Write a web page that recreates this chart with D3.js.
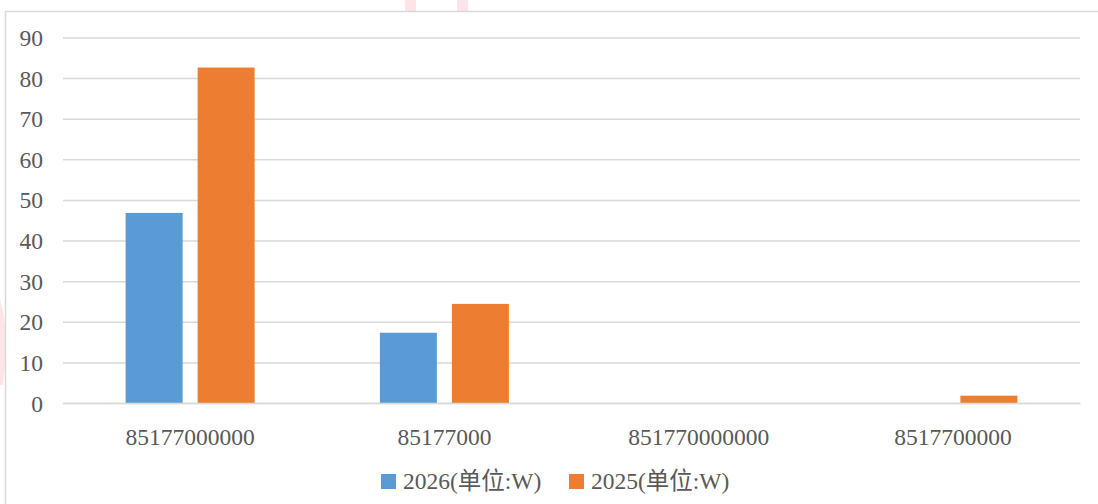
<!DOCTYPE html>
<html><head><meta charset="utf-8">
<script src="https://cdn.jsdelivr.net/npm/d3@7"></script>
<style>
html,body{margin:0;padding:0;background:#fff;}
svg text{font-family:"Liberation Serif","Times New Roman","Noto Sans CJK SC",serif;fill:#595959;}
</style></head>
<body>
<svg id="chart" width="1098" height="504"></svg>
<script>
const categories = ["85177000000", "85177000", "851770000000", "8517700000"];
const seriesNames = ["2026(单位:W)", "2025(单位:W)"];
const values2026 = [46.8, 17.3, 0, 0];
const values2025 = [82.6, 24.4, 0, 1.8];
const yTicks = [0, 10, 20, 30, 40, 50, 60, 70, 80, 90];
const colors = ["#5b9bd5", "#ed7d31"];

const svg = d3.select("#chart");
const m = {left: 63, right: 1080, top: 37.5, bottom: 403};
const FS = 23.5;

// watermark hints
const wm = svg.append("g").attr("fill", "#fde4e6");
wm.append("rect").attr("x", 405).attr("y", 0).attr("width", 11).attr("height", 11);
wm.append("rect").attr("x", 457).attr("y", 0).attr("width", 11).attr("height", 11);
wm.append("path").attr("d", "M0,300 Q10,330 3,385 L0,385 Z");

// border
svg.append("rect").attr("x", 5.5).attr("y", 11.5).attr("width", 1110).attr("height", 520)
  .attr("fill", "none").attr("stroke", "#d9d9d9").attr("stroke-width", 1.5);

const y = d3.scaleLinear().domain([0, 90]).range([m.bottom, m.top]);
const x0 = d3.scaleBand().domain(categories).range([m.left, m.right]);
const innerPad = 15, barW = 57;

// gridlines
const yAxis = d3.axisLeft(y).tickValues(yTicks).tickSize(-(m.right - m.left)).tickPadding(20).tickFormat(d3.format("d"));
const gy = svg.append("g").attr("transform", `translate(${m.left},0)`).call(yAxis);
gy.select(".domain").remove();
gy.selectAll(".tick line").attr("stroke", "#d9d9d9").attr("stroke-width", 1.5);
gy.selectAll(".tick text").attr("font-size", FS).attr("fill", "#595959").attr("dy", "0.34em");

// bars
const series = [values2026, values2025];
series.forEach((vals, si) => {
  svg.append("g").selectAll("rect").data(vals).join("rect")
    .attr("x", (d, i) => x0(categories[i]) + x0.bandwidth() / 2 + (si === 0 ? -(innerPad / 2 + barW) : innerPad / 2))
    .attr("width", barW)
    .attr("y", d => y(d))
    .attr("height", d => y(0) - y(d))
    .attr("fill", colors[si]);
});

// x axis
const xAxis = d3.axisBottom(x0).tickSize(0).tickPadding(25);
const gx = svg.append("g").attr("transform", `translate(0,${m.bottom})`).call(xAxis);
gx.select(".domain").attr("stroke", "#d9d9d9").attr("stroke-width", 1.5);
gx.selectAll(".tick text").attr("font-size", FS).attr("fill", "#595959");

// legend
const legendX = [381, 569];
seriesNames.forEach((name, i) => {
  const g = svg.append("g").attr("transform", `translate(${legendX[i]},474)`);
  g.append("rect").attr("width", 15).attr("height", 15).attr("fill", colors[i]);
  g.append("text").attr("x", 22).attr("y", 15).attr("font-size", FS).text(name);
});
</script>
</body></html>
